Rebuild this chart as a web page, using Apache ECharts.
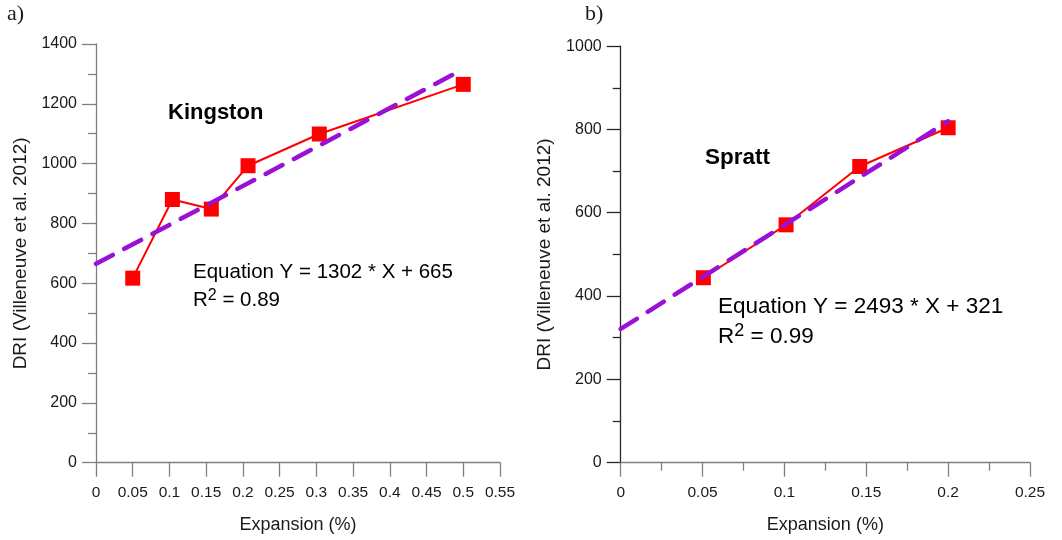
<!DOCTYPE html>
<html>
<head>
<meta charset="utf-8">
<script src="https://cdn.jsdelivr.net/npm/echarts@6/dist/echarts.min.js"></script>
<style>
  html, body { margin: 0; padding: 0; background: #fff; }
  #chart { width: 1062px; height: 540px; }
</style>
</head>
<body>
<div id="chart"></div>
<script>
// Kingston aggregate: expansion (%) vs DRI
const kingstonExpansion = [0.05, 0.104, 0.157, 0.207, 0.304, 0.5];
const kingstonDRI = [617, 880, 848, 993, 1099, 1265];
const kingstonFit = { slope: 1302, intercept: 665, xRange: [0, 0.5], r2: '0.89' };

// Spratt aggregate: expansion (%) vs DRI
const sprattExpansion = [0.0505, 0.101, 0.146, 0.2];
const sprattDRI = [444, 571, 711, 804];
const sprattFit = { slope: 2493, intercept: 321, xRange: [0, 0.2], r2: '0.99' };

// Axis ticks
const kingstonXTicks = [0, 0.05, 0.1, 0.15, 0.2, 0.25, 0.3, 0.35, 0.4, 0.45, 0.5, 0.55];
const kingstonYTicks = [0, 200, 400, 600, 800, 1000, 1200, 1400];
const sprattXTicks = [0, 0.05, 0.1, 0.15, 0.2, 0.25];
const sprattYTicks = [0, 200, 400, 600, 800, 1000];

const pairs = (xs, ys) => xs.map((x, i) => [x, ys[i]]);
const fitLine = f => f.xRange.map(x => [x, f.slope * x + f.intercept]);

const textCol = '#1a1a1a';
const fontFam = 'Liberation Sans, Arial, sans-serif';

function xAxisCfg(gridIndex, ticks, axisCol, minor) {
  return {
    type: 'value', gridIndex,
    min: ticks[0], max: ticks[ticks.length - 1], interval: ticks[1] - ticks[0],
    name: 'Expansion (%)', nameLocation: 'middle', nameGap: 53,
    nameTextStyle: { fontFamily: fontFam, fontSize: 18, color: textCol },
    axisLine: { onZero: false, lineStyle: { color: axisCol, width: 1.3 } },
    axisTick: { show: true, inside: false, length: 14, lineStyle: { color: axisCol, width: 1.3 } },
    minorTick: { show: minor, splitNumber: 2, length: 8, lineStyle: { color: axisCol, width: 1.3 } },
    axisLabel: { margin: 22, fontFamily: fontFam, fontSize: 15.5, color: textCol, formatter: v => String(+v.toFixed(3)) },
    splitLine: { show: false }
  };
}

function yAxisCfg(gridIndex, ticks, axisCol) {
  return {
    type: 'value', gridIndex,
    min: ticks[0], max: ticks[ticks.length - 1], interval: ticks[1] - ticks[0],
    name: 'DRI (Villeneuve et al. 2012)', nameLocation: 'middle', nameGap: 66,
    nameTextStyle: { fontFamily: fontFam, fontSize: 19, color: textCol },
    axisLine: { show: true, onZero: false, lineStyle: { color: axisCol, width: 1.3 } },
    axisTick: { show: true, inside: false, length: 14, lineStyle: { color: axisCol, width: 1.3 } },
    minorTick: { show: true, splitNumber: 2, length: 8, lineStyle: { color: axisCol, width: 1.3 } },
    axisLabel: { margin: 19, fontFamily: fontFam, fontSize: 16, color: textCol, formatter: v => String(v) },
    splitLine: { show: false }
  };
}

function dataSeries(idx, data) {
  return {
    type: 'line', xAxisIndex: idx, yAxisIndex: idx, data,
    symbol: 'rect', symbolSize: 15,
    itemStyle: { color: '#ff0000' },
    lineStyle: { color: '#ff0000', width: 2 },
    z: 3, animation: false
  };
}

function fitSeries(idx, data) {
  return {
    type: 'line', xAxisIndex: idx, yAxisIndex: idx, data,
    symbol: 'none',
    lineStyle: { color: '#9a10d6', width: 4.5, type: [19, 13], cap: 'round' },
    z: 4, animation: false
  };
}

function eqText(left, top, fit, size, lh) {
  const sup = Math.round(size * 0.8);
  return {
    type: 'text', left, top,
    style: {
      text: '{base|Equation Y = ' + fit.slope + ' * X + ' + fit.intercept + '}\n{base|R}{sup|2}{base| = ' + fit.r2 + '}',
      rich: {
        base: { fontFamily: fontFam, fontSize: size, color: textCol, lineHeight: lh },
        sup: { fontFamily: fontFam, fontSize: sup, color: textCol, lineHeight: lh, padding: [0, 0, Math.round(size * 0.45), 0] }
      }
    }
  };
}

const chart = echarts.init(document.getElementById('chart'), null, { renderer: 'canvas' });
chart.setOption({
  backgroundColor: '#ffffff',
  animation: false,
  grid: [
    { left: 96, top: 44, width: 404, height: 418.7, containLabel: false },
    { left: 620.7, top: 46.1, width: 409.3, height: 416.6, containLabel: false }
  ],
  xAxis: [
    xAxisCfg(0, kingstonXTicks, '#808080', false),
    xAxisCfg(1, sprattXTicks, '#808080', true)
  ],
  yAxis: [
    yAxisCfg(0, kingstonYTicks, '#808080'),
    yAxisCfg(1, sprattYTicks, '#2a2a2a')
  ],
  series: [
    dataSeries(0, pairs(kingstonExpansion, kingstonDRI)),
    fitSeries(0, fitLine(kingstonFit)),
    dataSeries(1, pairs(sprattExpansion, sprattDRI)),
    fitSeries(1, fitLine(sprattFit))
  ],
  graphic: [
    { type: 'text', left: 7, top: 3, style: { text: 'a)', fontFamily: 'Liberation Serif, serif', fontSize: 22, fill: textCol } },
    { type: 'text', left: 585, top: 3, style: { text: 'b)', fontFamily: 'Liberation Serif, serif', fontSize: 22, fill: textCol } },
    { type: 'text', left: 168, top: 102, style: { text: 'Kingston', fontFamily: fontFam, fontWeight: 'bold', fontSize: 22, fill: '#000' } },
    { type: 'text', left: 705, top: 146, style: { text: 'Spratt', fontFamily: fontFam, fontWeight: 'bold', fontSize: 22.5, fill: '#000' } },
    eqText(193, 262, kingstonFit, 20.5, 28),
    eqText(718, 295, sprattFit, 22.5, 30)
  ]
});
</script>
</body>
</html>
